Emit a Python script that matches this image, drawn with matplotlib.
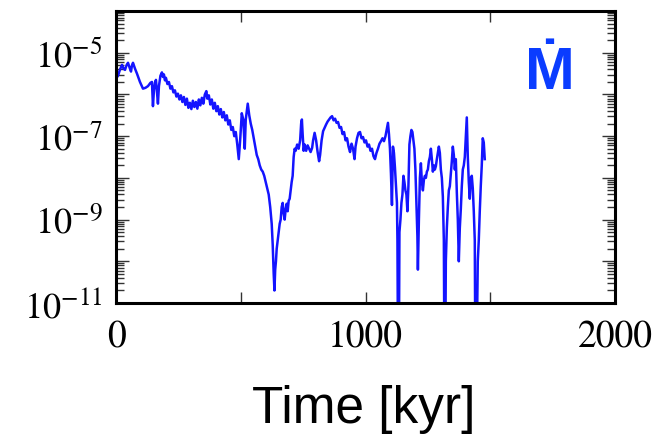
import numpy as np
import matplotlib
matplotlib.use("Agg")
import matplotlib.pyplot as plt
from matplotlib.ticker import FixedLocator, FuncFormatter, LogLocator, NullFormatter

plt.rcParams.update({
    "font.family": "STIXGeneral",
    "mathtext.fontset": "stix",
    "xtick.direction": "in",
    "ytick.direction": "in",
})

# accretion rate history (log10 of Mdot)
time_kyr = [
    0, 8, 16, 24, 30, 36, 42, 48, 54, 60, 64, 68, 76, 84, 96, 108, 118, 128, 138, 144,
    148, 152, 156, 160, 164, 168, 172, 178, 184, 188, 192, 196, 200, 206, 212, 218, 224, 230, 236, 242,
    248, 254, 260, 266, 272, 278, 284, 290, 296, 302, 308, 314, 320, 326, 332, 338, 344, 350, 356, 362,
    366, 372, 378, 384, 390, 396, 402, 408, 414, 420, 426, 432, 438, 444, 450, 456, 462, 468, 474, 480,
    486, 492, 498, 504, 510, 516, 520, 524, 528, 534, 540, 546, 552, 558, 564, 570, 576, 582, 588, 594,
    600, 606, 612, 618, 624, 628, 632, 635, 638, 641, 644, 648, 652, 656, 660, 664, 668, 672, 676, 680,
    684, 688, 692, 696, 700, 704, 708, 712, 716, 720, 726, 732, 738, 742, 745, 748, 752, 756, 762, 768,
    774, 780, 786, 790, 796, 802, 808, 814, 818, 824, 830, 836, 842, 848, 854, 860, 866, 872, 878, 884,
    890, 896, 902, 908, 914, 920, 926, 932, 938, 944, 950, 956, 960, 966, 972, 978, 984, 990, 996, 1002,
    1008, 1014, 1020, 1026, 1032, 1038, 1044, 1050, 1056, 1062, 1068, 1074, 1080, 1086, 1090, 1094, 1098, 1102, 1106, 1110,
    1114, 1118, 1122, 1126, 1128, 1130, 1134, 1136, 1140, 1144, 1148, 1152, 1156, 1160, 1164, 1168, 1172, 1176, 1180, 1184,
    1188, 1192, 1196, 1200, 1204, 1208, 1210, 1214, 1218, 1222, 1226, 1230, 1234, 1238, 1242, 1246, 1250, 1254, 1258, 1262,
    1266, 1270, 1274, 1278, 1282, 1286, 1290, 1294, 1298, 1302, 1306, 1310, 1314, 1316, 1320, 1322, 1326, 1330, 1334, 1338,
    1342, 1346, 1350, 1354, 1358, 1362, 1366, 1370, 1374, 1378, 1382, 1386, 1390, 1394, 1398, 1402, 1406, 1410, 1414, 1418,
    1422, 1426, 1430, 1434, 1438, 1440, 1446, 1450, 1454, 1458, 1462, 1466, 1470, 1474, 1478,
]
log_mdot = [
    -5.62, -5.55, -5.40, -5.29, -5.38, -5.41, -5.30, -5.24, -5.35, -5.45, -5.30, -5.24, -5.38, -5.50, -5.70, -5.86, -5.84, -5.80, -5.72, -5.70,
    -6.28, -5.90, -5.72, -5.65, -5.95, -6.22, -5.80, -5.55, -5.47, -5.58, -5.52, -5.66, -5.60, -5.75, -5.70, -5.86, -5.80, -5.95, -5.90, -6.05,
    -5.98, -6.12, -6.02, -6.18, -6.06, -6.25, -6.10, -6.32, -6.20, -6.35, -6.15, -6.30, -6.18, -6.34, -6.12, -6.26, -6.08, -6.22, -6.00, -5.92,
    -6.10, -6.02, -6.24, -6.12, -6.34, -6.20, -6.40, -6.28, -6.48, -6.35, -6.55, -6.42, -6.62, -6.50, -6.72, -6.62, -6.85, -6.78, -7.00, -6.90,
    -7.20, -7.55, -7.05, -6.45, -6.60, -7.30, -6.60, -6.40, -6.22, -6.50, -6.70, -6.85, -7.05, -7.25, -7.45, -7.55, -7.70, -7.80, -7.85, -7.95,
    -8.10, -8.25, -8.40, -8.70, -9.10, -9.60, -10.30, -10.70, -10.20, -10.00, -9.70, -9.50, -9.30, -9.10, -9.00, -8.70, -8.60, -8.85, -9.00, -8.75,
    -8.62, -8.80, -8.55, -8.50, -8.30, -8.10, -7.95, -7.50, -7.30, -7.35, -7.20, -7.30, -7.10, -6.70, -6.60, -6.95, -7.35, -7.20, -7.35, -7.22,
    -7.30, -7.38, -7.28, -7.10, -6.92, -7.10, -7.38, -7.60, -7.45, -7.10, -6.88, -6.80, -6.72, -6.65, -6.60, -6.55, -6.52, -6.62, -6.58, -6.68,
    -6.66, -6.80, -6.78, -6.95, -6.90, -7.10, -7.05, -7.25, -7.38, -7.18, -7.30, -7.55, -7.25, -7.05, -6.92, -6.90, -7.05, -7.02, -7.15, -7.10,
    -7.25, -7.20, -7.35, -7.30, -7.48, -7.55, -7.40, -7.30, -7.18, -7.12, -7.05, -7.12, -7.00, -6.80, -6.68, -6.95, -7.30, -7.90, -8.65, -7.25,
    -7.40, -7.75, -8.20, -8.60, -9.50, -12.0, -12.0, -9.30, -9.00, -8.60, -8.40, -7.95, -8.10, -8.30, -8.40, -8.80, -8.20, -7.20, -7.00, -6.85,
    -6.90, -7.10, -7.30, -7.80, -8.60, -9.40, -10.20, -9.00, -8.00, -7.65, -8.10, -8.30, -8.05, -7.95, -8.00, -7.85, -7.80, -7.60, -7.50, -7.30,
    -7.55, -7.85, -7.70, -7.80, -7.72, -7.55, -7.40, -7.25, -7.40, -7.80, -8.00, -8.45, -9.50, -12.0, -12.0, -10.0, -9.20, -8.70, -8.30, -8.20,
    -7.90, -7.60, -7.25, -7.45, -7.80, -7.55, -8.35, -9.00, -10.00, -9.20, -8.75, -8.20, -7.80, -7.70, -7.50, -7.00, -6.55, -7.50, -8.10, -8.50,
    -8.00, -7.95, -8.25, -8.80, -9.50, -12.0, -12.0, -10.0, -9.50, -8.80, -8.20, -7.70, -7.05, -7.15, -7.55,
]

decades = [-11, -10, -9, -8, -7, -6, -5, -4]
labelled = [-11, -9, -7, -5]
x_ticks = [0, 500, 1000, 1500, 2000]
x_labelled = [0, 1000, 2000]

fig = plt.figure(figsize=(6.6, 4.39), dpi=100)
ax = fig.add_axes([0.1758, 0.3075, 0.756, 0.665])

ax.plot(time_kyr, 10.0 ** np.array(log_mdot), color="#1414ff", lw=1.8)

ax.set_yscale("log")
ax.set_xlim(0, 2000)
ax.set_ylim(1e-11, 1e-4)

ax.yaxis.set_major_locator(FixedLocator([10.0 ** d for d in decades]))
ax.yaxis.set_major_formatter(FuncFormatter(
    lambda v, pos: r"$10^{%d}$" % round(np.log10(v)) if round(np.log10(v)) in labelled else ""))
ax.yaxis.set_minor_locator(LogLocator(base=10, subs=np.arange(2, 10), numticks=20))
ax.yaxis.set_minor_formatter(NullFormatter())

ax.xaxis.set_major_locator(FixedLocator(x_ticks))
ax.xaxis.set_major_formatter(FuncFormatter(
    lambda v, pos: "%d" % v if v in x_labelled else ""))

ax.tick_params(which="both", top=True, right=True, labelsize=27, color="#333333")
ax.tick_params(axis="y", which="major", length=9.5, width=1.0, pad=10, labelsize=26)
ax.tick_params(axis="y", which="minor", length=5.5, width=1.0)
ax.tick_params(axis="x", which="major", length=8, width=1.0, pad=12)
for sp in ax.spines.values():
    sp.set_linewidth(2.2)

ax.text(0.87, 0.736, "\u1E40", transform=ax.transAxes, ha="center", va="baseline",
        fontsize=43, fontweight="bold", color="#0a3cff",
        family=["Liberation Sans", "DejaVu Sans"])

fig.text(364 / 660, 1 - 423 / 439, "Time [kyr]", ha="center", va="baseline",
         fontsize=37, family="Liberation Sans")

fig.savefig("out.png", dpi=100)
